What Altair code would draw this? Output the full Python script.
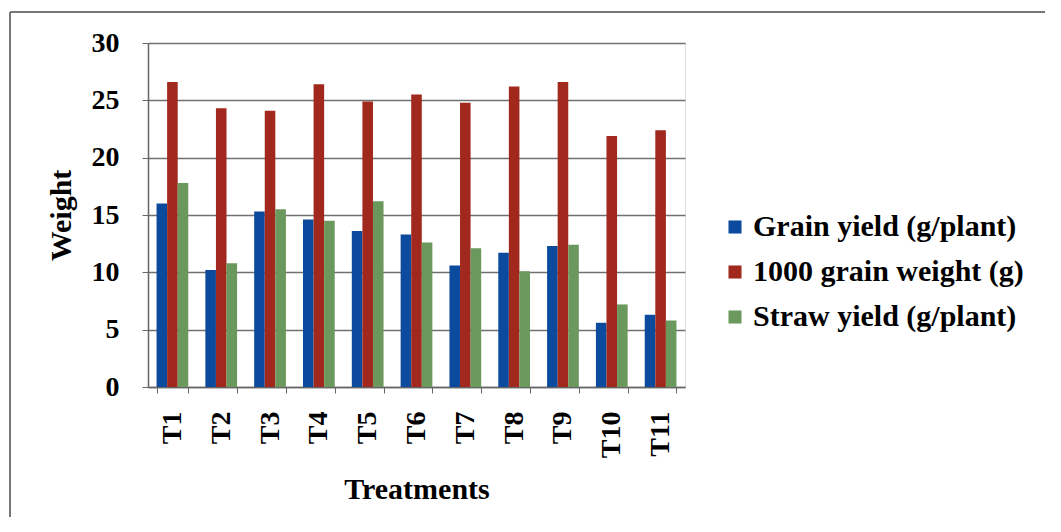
import altair as alt
import pandas as pd

treatments = ["T1", "T2", "T3", "T4", "T5", "T6", "T7", "T8", "T9", "T10", "T11"]
series = ["Grain yield (g/plant)", "1000 grain weight (g)", "Straw yield (g/plant)"]
grain_yield = [16.0, 10.2, 15.3, 14.6, 13.6, 13.3, 10.6, 11.7, 12.3, 5.6, 6.3]
grain_weight = [26.6, 24.3, 24.1, 26.4, 24.9, 25.5, 24.8, 26.2, 26.6, 21.9, 22.4]
straw_yield = [17.8, 10.8, 15.5, 14.5, 16.2, 12.6, 12.1, 10.1, 12.4, 7.2, 5.8]
colors = ["#0b4a9c", "#a0281c", "#6b985c"]

rows = []
for vals, name in zip([grain_yield, grain_weight, straw_yield], series):
    for t, v in zip(treatments, vals):
        rows.append({"Treatment": t, "Series": name, "Weight": v})
df = pd.DataFrame(rows)

FONT = "Liberation Serif"

bars = alt.Chart(df).mark_bar().encode(
    x=alt.X("Treatment:N", sort=treatments,
            scale=alt.Scale(paddingInner=0.35, paddingOuter=0.175),
            axis=alt.Axis(title="Treatments", labelAngle=-90, labelAlign="right",
                          labelBaseline="middle", labelFontSize=28, labelFont=FONT,
                          labelFontWeight="bold", labelColor="black", labelPadding=18,
                          titleFont=FONT, titleFontSize=30, titleFontWeight="bold",
                          titleColor="black", titlePadding=17, tickBand="extent",
                          tickSize=6, tickColor="#666", domainColor="#666",
                          domainWidth=1.5, grid=False)),
    xOffset=alt.XOffset("Series:N", sort=series),
    y=alt.Y("Weight:Q", scale=alt.Scale(domain=[0, 30]),
            axis=alt.Axis(title="Weight", values=[0, 5, 10, 15, 20, 25, 30],
                          labelFontSize=28, labelFont=FONT, labelFontWeight="bold",
                          labelColor="black", labelPadding=23,
                          titleFont=FONT, titleFontSize=30, titleFontWeight="bold",
                          titleColor="black", titlePadding=15,
                          tickSize=6, tickColor="#666", domainColor="#666",
                          domainWidth=1.5, gridColor="#707070", gridWidth=1.5)),
    color=alt.Color("Series:N", sort=series,
                    scale=alt.Scale(domain=series, range=colors),
                    legend=alt.Legend(title=None, orient="none", legendX=572, legendY=169,
                                      symbolType="square", symbolSize=170,
                                      symbolStrokeWidth=0, labelFont=FONT,
                                      labelFontSize=30, labelFontWeight="bold",
                                      labelColor="black", rowPadding=15,
                                      labelLimit=400, labelOffset=3)),
)

frame = pd.DataFrame({"k": [0]})
top_line = alt.Chart(frame).mark_rule(color="#777", strokeWidth=2).encode(
    x=alt.value(-138), x2=alt.value(920), y=alt.value(-31))
left_line = alt.Chart(frame).mark_rule(color="#777", strokeWidth=2).encode(
    x=alt.value(-138), y=alt.value(-31), y2=alt.value(500))

chart = alt.layer(top_line, left_line, bars).properties(
    width=537, height=344,
    autosize=alt.AutoSizeParams(type="none"),
    padding={"left": 140, "top": 35, "right": 360, "bottom": 130},
).configure_view(stroke=None).configure(background="white")

chart.save("out.html", embed_options={"renderer": "svg", "actions": False})
